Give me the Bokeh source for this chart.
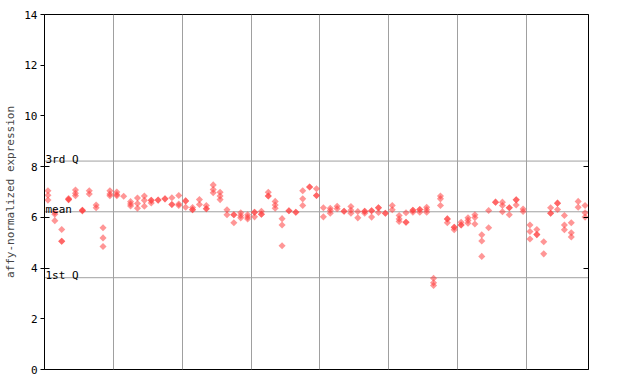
import math
from bokeh.plotting import figure
from bokeh.models import FixedTicker, LinearAxis, Span, Label, ColumnDataSource, Range1d
from bokeh.embed import file_html
from bokeh.resources import INLINE

# expression values per sample (replicate points), samples 0..78
sample_values = [
    [7.05, 6.87, 6.68], [6.20, 6.12, 5.87], [5.52, 5.06, 5.06], [6.70, 6.70, 6.74],
    [7.08, 6.95, 6.85], [6.28, 6.28, 6.25], [7.05, 6.92], [6.49, 6.38],
    [5.59, 5.19, 4.85], [7.05, 6.92, 6.85], [7.00, 6.90, 6.85], [6.83],
    [6.62, 6.53, 6.45], [6.76, 6.55, 6.36], [6.84, 6.67, 6.44], [6.67, 6.67, 6.57],
    [6.68, 6.68], [6.73, 6.73], [6.77, 6.51, 6.51], [6.86, 6.53, 6.47],
    [6.65, 6.65, 6.40], [6.30, 6.30, 6.39], [6.70, 6.51], [6.34, 6.34, 6.47],
    [7.28, 7.10, 6.97], [6.99, 6.84, 6.70], [6.30, 6.10], [6.10, 6.10, 5.79],
    [6.18, 6.07, 5.98], [6.10, 6.01, 5.94], [6.20, 6.20, 6.02], [6.12, 6.12, 6.24],
    [6.84, 6.84, 6.99], [6.63, 6.49, 6.36], [5.95, 5.70, 4.88], [6.26, 6.26],
    [6.20, 6.20], [7.05, 6.73, 6.47], [7.20, 7.20], [7.13, 6.86, 6.86],
    [6.38, 6.02], [6.36, 6.27, 6.16], [6.44, 6.34], [6.24, 6.24],
    [6.43, 6.28, 6.16], [6.23, 5.98], [6.24, 6.24, 6.16], [6.26, 6.26, 6.01],
    [6.38, 6.38, 6.19], [6.16, 6.16], [6.47, 6.30], [6.07, 5.94, 5.84],
    [5.81, 5.81, 6.18], [6.28, 6.28, 6.20], [6.31, 6.31, 6.20], [6.40, 6.30, 6.20],
    [3.60, 3.42, 3.31], [6.84, 6.73, 6.47], [5.94, 5.94, 5.79], [5.61, 5.61, 5.51],
    [5.70, 5.70, 5.81], [5.98, 5.88, 5.77], [6.10, 5.99, 5.74], [5.31, 5.07, 4.46],
    [6.27, 5.59], [6.60, 6.60], [6.60, 6.47, 6.22], [6.38, 6.38, 6.10],
    [6.69, 6.69, 6.49], [6.33, 6.23], [5.70, 5.44, 5.15], [5.52, 5.32, 5.32],
    [5.04, 4.56], [6.16, 6.16, 6.38], [6.56, 6.56, 6.31], [6.07, 5.70, 5.51],
    [5.79, 5.39, 5.23], [6.63, 6.40], [6.47, 6.18, 6.01],
]
group_bounds = [10, 20, 30, 40, 50, 60, 70]
y_ticks = [0, 2, 4, 6, 8, 10, 12, 14]
inner_ticks = [4, 6, 8]
q3_value = 8.22
mean_value = 6.22
q1_value = 3.62
ref_labels = ["3rd Q", "mean", "1st Q"]

xs, ys = [], []
for i, vals in enumerate(sample_values):
    for v in vals:
        xs.append(i + 0.5)
        ys.append(v)
src = ColumnDataSource(dict(x=xs, y=ys))

n = len(sample_values)
FONT = "DejaVu Sans Mono"
GRID = "#a0a0a0"

p = figure(width=640, height=384, output_backend="svg", toolbar_location=None,
           x_range=Range1d(0, n), y_range=Range1d(0, 14),
           min_border_left=44, min_border_right=52, min_border_top=14, min_border_bottom=15)
p.background_fill_color = "white"
p.border_fill_color = "white"
p.outline_line_color = "black"
p.outline_line_width = 1

p.xaxis.visible = False
p.ygrid.visible = False
p.xgrid.ticker = FixedTicker(ticks=group_bounds)
p.xgrid.grid_line_color = GRID
p.xgrid.grid_line_width = 1

ya = p.yaxis[0]
ya.ticker = FixedTicker(ticks=y_ticks, minor_ticks=inner_ticks)
ya.major_tick_in = 0
ya.major_tick_out = 4
ya.minor_tick_in = 5
ya.minor_tick_out = 0
ya.minor_tick_line_color = "black"
ya.major_tick_line_color = "black"
ya.axis_line_color = "black"
ya.major_label_text_font = FONT
ya.major_label_text_font_size = "11px"
ya.major_label_text_color = "black"
ya.major_label_standoff = 3
ya.axis_label = "affy-normalized expression"
ya.axis_label_text_font = FONT
ya.axis_label_text_font_size = "11px"
ya.axis_label_text_font_style = "normal"
ya.axis_label_standoff = 4

ra = LinearAxis(ticker=FixedTicker(ticks=inner_ticks), major_tick_in=5, major_tick_out=0,
                minor_tick_line_color=None, major_label_text_color=None,
                major_label_text_font_size="1px", axis_line_color="black",
                major_tick_line_color="black")
p.add_layout(ra, "right")

for val, lab in zip([q3_value, mean_value, q1_value], ref_labels):
    p.add_layout(Span(location=val, dimension="width", line_color=GRID, line_width=1, level="underlay"))
    p.add_layout(Label(x=0, y=val, text=lab, x_offset=1, y_offset=2, text_baseline="alphabetic",
                       text_font=FONT, text_font_size="11px", text_color="black"))

p.scatter("x", "y", source=src, marker="square", angle=math.pi / 4, size=5,
          fill_color="#ff4040", fill_alpha=0.55, line_color=None)

open("out.html", "w").write(file_html(p, INLINE))
